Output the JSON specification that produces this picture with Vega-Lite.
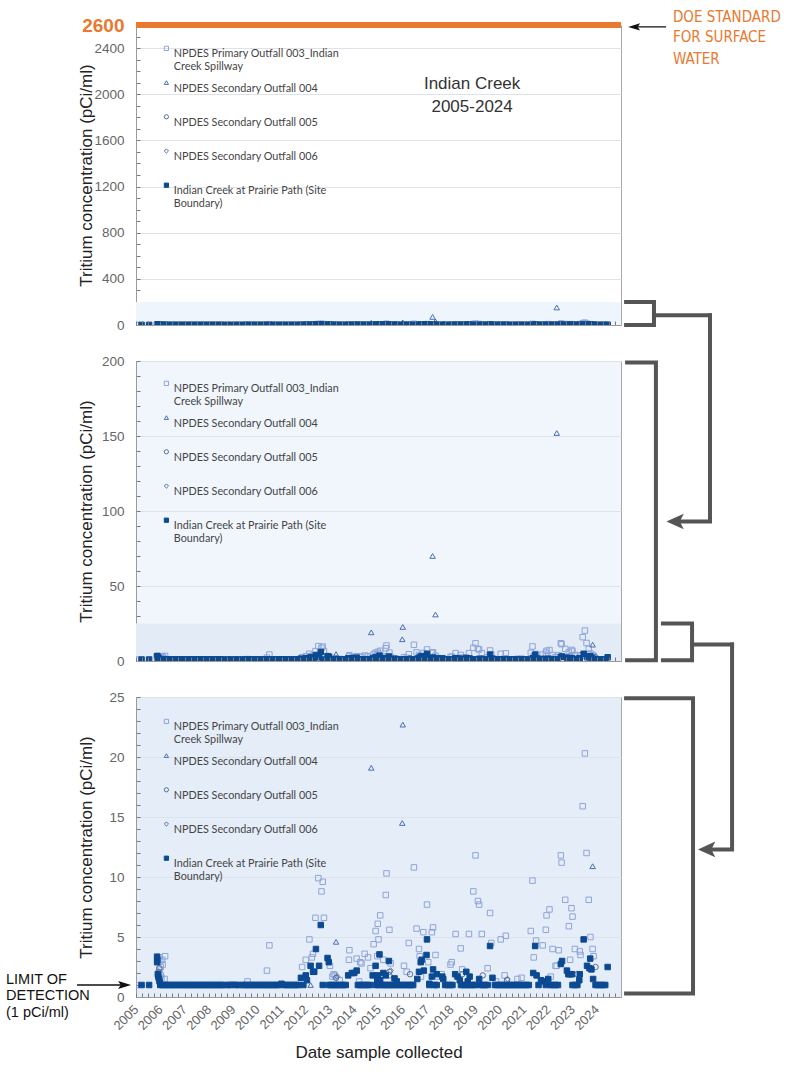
{
"$schema": "https://vega.github.io/schema/vega-lite/v6.json",
"padding": {"left": 5, "top": 9, "right": 5, "bottom": 5},
"background": "white",
"config": {
  "font": "Liberation Sans",
  "view": {"stroke": "#a8a8a8", "strokeWidth": 1},
  "axis": {"domainColor": "#9a9a9a", "tickColor": "#7a7a7a", "tickSize": -4, "tickCount": 200, "labelOverlap": false, "labelFont": "Liberation Sans", "labelColor": "#666", "labelFontSize": 13.5, "titleFont": "Liberation Sans", "titleFontWeight": "normal", "titleColor": "#222", "titleFontSize": 17, "gridColor": "#dde3eb"}
},
"datasets": {
  "sites": [
    {"s": "003", "site": "NPDES Primary Outfall 003_Indian Creek Spillway"},
    {"s": "004", "site": "NPDES Secondary Outfall 004"},
    {"s": "005", "site": "NPDES Secondary Outfall 005"},
    {"s": "006", "site": "NPDES Secondary Outfall 006"},
    {"s": "IC", "site": "Indian Creek at Prairie Path (Site Boundary)"}
  ],
  "samples": [
{"t":2005.0,"v":1.0,"s":"003"},{"t":2005.95,"v":3.3,"s":"003"},{"t":2006.0,"v":3.0,"s":"003"},{"t":2006.02,"v":2.5,"s":"003"},{"t":2005.97,"v":2.3,"s":"003"},{"t":2005.95,"v":2.0,"s":"003"},{"t":2006.02,"v":1.8,"s":"003"},{"t":2006.05,"v":1.6,"s":"003"},{"t":2006.2,"v":3.4,"s":"003"},{"t":2006.18,"v":1.5,"s":"003"},{"t":2006.1,"v":2.7,"s":"003"},{"t":2006.08,"v":3.1,"s":"003"},
{"t":2008.7,"v":1.0,"s":"003"},{"t":2009.0,"v":1.05,"s":"003"},{"t":2009.3,"v":1.0,"s":"003"},{"t":2009.6,"v":1.3,"s":"003"},{"t":2010.4,"v":2.2,"s":"003"},{"t":2010.5,"v":4.3,"s":"003"},
{"t":2011.85,"v":2.5,"s":"003"},{"t":2012.0,"v":3.1,"s":"003"},{"t":2012.15,"v":4.8,"s":"003"},{"t":2012.25,"v":3.3,"s":"003"},{"t":2012.3,"v":3.6,"s":"003"},{"t":2012.4,"v":6.6,"s":"003"},{"t":2012.52,"v":9.9,"s":"003"},{"t":2012.65,"v":8.8,"s":"003"},{"t":2012.7,"v":9.6,"s":"003"},{"t":2012.75,"v":6.6,"s":"003"},{"t":2013.0,"v":2.6,"s":"003"},{"t":2013.1,"v":1.7,"s":"003"},{"t":2013.15,"v":1.9,"s":"003"},{"t":2013.2,"v":1.8,"s":"003"},{"t":2013.4,"v":1.4,"s":"003"},{"t":2013.78,"v":3.1,"s":"003"},{"t":2013.8,"v":3.9,"s":"003"},
{"t":2014.1,"v":3.2,"s":"003"},{"t":2014.2,"v":1.3,"s":"003"},{"t":2014.25,"v":2.9,"s":"003"},{"t":2014.3,"v":2.8,"s":"003"},{"t":2014.43,"v":3.6,"s":"003"},{"t":2014.57,"v":3.3,"s":"003"},{"t":2014.67,"v":2.4,"s":"003"},{"t":2014.8,"v":4.4,"s":"003"},{"t":2014.88,"v":5.5,"s":"003"},{"t":2014.95,"v":3.4,"s":"003"},{"t":2014.97,"v":6.1,"s":"003"},{"t":2015.0,"v":4.8,"s":"003"},{"t":2015.07,"v":6.8,"s":"003"},{"t":2015.2,"v":3.1,"s":"003"},{"t":2015.3,"v":8.5,"s":"003"},{"t":2015.33,"v":10.3,"s":"003"},{"t":2015.45,"v":5.6,"s":"003"},{"t":2015.5,"v":2.8,"s":"003"},
{"t":2016.05,"v":2.6,"s":"003"},{"t":2016.16,"v":2.1,"s":"003"},{"t":2016.25,"v":4.5,"s":"003"},{"t":2016.46,"v":10.8,"s":"003"},{"t":2016.57,"v":5.7,"s":"003"},{"t":2016.67,"v":4.0,"s":"003"},{"t":2016.7,"v":3.4,"s":"003"},{"t":2016.75,"v":1.7,"s":"003"},{"t":2016.85,"v":5.4,"s":"003"},{"t":2017.0,"v":7.7,"s":"003"},{"t":2017.05,"v":2.9,"s":"003"},{"t":2017.2,"v":5.4,"s":"003"},{"t":2017.25,"v":5.8,"s":"003"},{"t":2017.35,"v":3.5,"s":"003"},{"t":2017.45,"v":1.7,"s":"003"},{"t":2017.6,"v":1.9,"s":"003"},{"t":2017.97,"v":2.7,"s":"003"},
{"t":2018.02,"v":2.9,"s":"003"},{"t":2018.18,"v":5.25,"s":"003"},{"t":2018.39,"v":4.05,"s":"003"},{"t":2018.45,"v":2.3,"s":"003"},{"t":2018.73,"v":5.25,"s":"003"},{"t":2018.91,"v":8.8,"s":"003"},{"t":2019.0,"v":11.8,"s":"003"},{"t":2019.1,"v":8.0,"s":"003"},{"t":2019.15,"v":7.7,"s":"003"},{"t":2019.26,"v":5.25,"s":"003"},{"t":2019.5,"v":2.4,"s":"003"},{"t":2019.6,"v":7.0,"s":"003"},{"t":2019.65,"v":4.5,"s":"003"},{"t":2019.85,"v":1.3,"s":"003"},
{"t":2020.04,"v":4.8,"s":"003"},{"t":2020.2,"v":1.8,"s":"003"},{"t":2020.25,"v":5.1,"s":"003"},{"t":2020.73,"v":1.5,"s":"003"},{"t":2020.9,"v":1.6,"s":"003"},{"t":2021.28,"v":5.5,"s":"003"},{"t":2021.35,"v":9.7,"s":"003"},{"t":2021.4,"v":3.3,"s":"003"},{"t":2021.5,"v":4.7,"s":"003"},{"t":2021.77,"v":4.3,"s":"003"},{"t":2021.9,"v":5.6,"s":"003"},{"t":2021.93,"v":6.8,"s":"003"},
{"t":2022.05,"v":7.3,"s":"003"},{"t":2022.1,"v":1.7,"s":"003"},{"t":2022.18,"v":4.0,"s":"003"},{"t":2022.3,"v":2.6,"s":"003"},{"t":2022.35,"v":2.6,"s":"003"},{"t":2022.43,"v":3.9,"s":"003"},{"t":2022.52,"v":11.8,"s":"003"},{"t":2022.55,"v":11.2,"s":"003"},{"t":2022.7,"v":8.1,"s":"003"},{"t":2022.85,"v":5.9,"s":"003"},{"t":2022.9,"v":3.1,"s":"003"},{"t":2022.96,"v":7.4,"s":"003"},
{"t":2023.0,"v":6.7,"s":"003"},{"t":2023.1,"v":4.0,"s":"003"},{"t":2023.3,"v":3.8,"s":"003"},{"t":2023.33,"v":3.5,"s":"003"},{"t":2023.42,"v":15.9,"s":"003"},{"t":2023.51,"v":20.3,"s":"003"},{"t":2023.58,"v":12.0,"s":"003"},{"t":2023.67,"v":8.1,"s":"003"},{"t":2023.74,"v":5.0,"s":"003"},{"t":2023.83,"v":4.0,"s":"003"},{"t":2023.87,"v":3.4,"s":"003"},
{"t":2012.2,"v":1.0,"s":"004"},{"t":2013.25,"v":4.6,"s":"004"},{"t":2014.7,"v":19.1,"s":"004"},{"t":2016.0,"v":22.7,"s":"004"},{"t":2015.98,"v":14.5,"s":"004"},{"t":2017.23,"v":70,"s":"004"},{"t":2017.35,"v":31,"s":"004"},{"t":2022.35,"v":152,"s":"004"},{"t":2023.83,"v":10.9,"s":"004"},
{"t":2005.93,"v":2.1,"s":"005"},{"t":2005.96,"v":2.4,"s":"005"},{"t":2013.25,"v":1.6,"s":"005"},{"t":2015.45,"v":2.1,"s":"005"},{"t":2015.45,"v":1.8,"s":"005"},{"t":2016.3,"v":1.9,"s":"005"},{"t":2018.45,"v":1.9,"s":"005"},{"t":2019.3,"v":1.8,"s":"005"},{"t":2020.3,"v":1.4,"s":"005"},{"t":2023.2,"v":1.9,"s":"005"},{"t":2023.95,"v":2.5,"s":"005"},
{"t":2013.3,"v":1.7,"s":"006"},{"t":2015.5,"v":2.2,"s":"006"},{"t":2020.32,"v":1.5,"s":"006"},
{"t":2005.87,"v":3.36,"s":"IC"},{"t":2005.88,"v":3.1,"s":"IC"},{"t":2005.87,"v":2.9,"s":"IC"},{"t":2005.9,"v":1.9,"s":"IC"},{"t":2005.92,"v":1.7,"s":"IC"},{"t":2005.95,"v":1.5,"s":"IC"},{"t":2005.97,"v":1.3,"s":"IC"},
{"t":2011.8,"v":1.6,"s":"IC"},{"t":2012.0,"v":1.8,"s":"IC"},{"t":2012.05,"v":1.4,"s":"IC"},{"t":2012.2,"v":2.6,"s":"IC"},{"t":2012.3,"v":2.1,"s":"IC"},{"t":2012.35,"v":2.1,"s":"IC"},{"t":2012.42,"v":4.0,"s":"IC"},{"t":2012.55,"v":2.6,"s":"IC"},{"t":2012.62,"v":6.0,"s":"IC"},{"t":2012.9,"v":3.25,"s":"IC"},{"t":2012.95,"v":2.9,"s":"IC"},{"t":2013.75,"v":1.8,"s":"IC"},{"t":2013.9,"v":2.0,"s":"IC"},{"t":2014.0,"v":2.0,"s":"IC"},{"t":2014.1,"v":2.2,"s":"IC"},{"t":2014.76,"v":1.8,"s":"IC"},{"t":2014.88,"v":2.6,"s":"IC"},{"t":2014.95,"v":1.4,"s":"IC"},{"t":2014.97,"v":1.8,"s":"IC"},
{"t":2015.04,"v":3.55,"s":"IC"},{"t":2015.07,"v":1.4,"s":"IC"},{"t":2015.2,"v":2.0,"s":"IC"},{"t":2015.3,"v":1.8,"s":"IC"},{"t":2015.43,"v":3.0,"s":"IC"},{"t":2015.66,"v":1.55,"s":"IC"},{"t":2015.75,"v":1.3,"s":"IC"},{"t":2016.6,"v":1.5,"s":"IC"},{"t":2016.67,"v":2.1,"s":"IC"},{"t":2016.74,"v":2.9,"s":"IC"},{"t":2016.78,"v":3.1,"s":"IC"},{"t":2016.87,"v":2.2,"s":"IC"},{"t":2016.98,"v":3.5,"s":"IC"},{"t":2017.0,"v":4.8,"s":"IC"},{"t":2017.1,"v":1.1,"s":"IC"},{"t":2017.2,"v":1.7,"s":"IC"},{"t":2017.25,"v":2.3,"s":"IC"},{"t":2017.4,"v":1.9,"s":"IC"},{"t":2017.63,"v":1.7,"s":"IC"},{"t":2017.67,"v":1.5,"s":"IC"},
{"t":2018.16,"v":1.9,"s":"IC"},{"t":2018.26,"v":1.7,"s":"IC"},{"t":2018.35,"v":1.4,"s":"IC"},{"t":2018.62,"v":2.1,"s":"IC"},{"t":2018.68,"v":1.3,"s":"IC"},{"t":2018.76,"v":1.7,"s":"IC"},{"t":2019.15,"v":1.5,"s":"IC"},{"t":2019.6,"v":4.25,"s":"IC"},{"t":2019.7,"v":1.6,"s":"IC"},{"t":2021.38,"v":2.0,"s":"IC"},{"t":2021.46,"v":4.25,"s":"IC"},{"t":2021.52,"v":1.8,"s":"IC"},{"t":2021.7,"v":1.4,"s":"IC"},{"t":2021.83,"v":1.3,"s":"IC"},{"t":2022.0,"v":1.5,"s":"IC"},
{"t":2022.52,"v":2.75,"s":"IC"},{"t":2022.57,"v":3.0,"s":"IC"},{"t":2022.77,"v":2.2,"s":"IC"},{"t":2022.83,"v":1.9,"s":"IC"},{"t":2022.9,"v":1.9,"s":"IC"},{"t":2022.98,"v":1.9,"s":"IC"},{"t":2023.28,"v":1.4,"s":"IC"},{"t":2023.3,"v":1.9,"s":"IC"},{"t":2023.46,"v":4.8,"s":"IC"},{"t":2023.6,"v":2.6,"s":"IC"},{"t":2023.7,"v":2.4,"s":"IC"},{"t":2023.73,"v":3.2,"s":"IC"},{"t":2023.78,"v":2.3,"s":"IC"},{"t":2023.85,"v":1.5,"s":"IC"},{"t":2024.45,"v":2.5,"s":"IC"},
{"t":2005.23,"v":1,"s":"IC"},{"t":2005.54,"v":1,"s":"IC"},
{"t":2006.0,"v":1,"s":"IC"},{"t":2006.1,"v":1,"s":"IC"},{"t":2006.2,"v":1,"s":"IC"},{"t":2006.3,"v":1,"s":"IC"},{"t":2006.4,"v":1,"s":"IC"},{"t":2006.5,"v":1,"s":"IC"},{"t":2006.6,"v":1,"s":"IC"},{"t":2006.7,"v":1,"s":"IC"},{"t":2006.8,"v":1,"s":"IC"},{"t":2006.9,"v":1,"s":"IC"},
{"t":2007.0,"v":1,"s":"IC"},{"t":2007.1,"v":1,"s":"IC"},{"t":2007.2,"v":1,"s":"IC"},{"t":2007.3,"v":1,"s":"IC"},{"t":2007.4,"v":1,"s":"IC"},{"t":2007.5,"v":1,"s":"IC"},{"t":2007.6,"v":1,"s":"IC"},{"t":2007.7,"v":1,"s":"IC"},{"t":2007.8,"v":1,"s":"IC"},{"t":2007.9,"v":1,"s":"IC"},
{"t":2008.0,"v":1,"s":"IC"},{"t":2008.1,"v":1,"s":"IC"},{"t":2008.2,"v":1,"s":"IC"},{"t":2008.3,"v":1,"s":"IC"},{"t":2008.4,"v":1,"s":"IC"},{"t":2008.5,"v":1,"s":"IC"},{"t":2008.6,"v":1,"s":"IC"},{"t":2008.8,"v":1,"s":"IC"},{"t":2008.9,"v":1,"s":"IC"},
{"t":2009.1,"v":1,"s":"IC"},{"t":2009.2,"v":1,"s":"IC"},{"t":2009.4,"v":1,"s":"IC"},{"t":2009.5,"v":1,"s":"IC"},{"t":2009.6,"v":1,"s":"IC"},{"t":2009.7,"v":1,"s":"IC"},{"t":2009.8,"v":1,"s":"IC"},{"t":2009.9,"v":1,"s":"IC"},
{"t":2010.0,"v":1,"s":"IC"},{"t":2010.1,"v":1,"s":"IC"},{"t":2010.2,"v":1,"s":"IC"},{"t":2010.3,"v":1,"s":"IC"},{"t":2010.4,"v":1,"s":"IC"},{"t":2010.5,"v":1,"s":"IC"},{"t":2010.6,"v":1,"s":"IC"},{"t":2010.7,"v":1,"s":"IC"},{"t":2010.8,"v":1,"s":"IC"},{"t":2010.9,"v":1,"s":"IC"},
{"t":2011.0,"v":1.1,"s":"IC"},{"t":2011.1,"v":1,"s":"IC"},{"t":2011.2,"v":1,"s":"IC"},{"t":2011.3,"v":1,"s":"IC"},{"t":2011.4,"v":1,"s":"IC"},{"t":2011.5,"v":1,"s":"IC"},{"t":2011.6,"v":1,"s":"IC"},{"t":2011.7,"v":1,"s":"IC"},{"t":2011.9,"v":1,"s":"IC"},
{"t":2012.7,"v":1,"s":"IC"},{"t":2012.96,"v":1,"s":"IC"},{"t":2013.05,"v":1,"s":"IC"},{"t":2013.15,"v":1,"s":"IC"},{"t":2013.25,"v":1,"s":"IC"},{"t":2013.35,"v":1,"s":"IC"},{"t":2013.45,"v":1,"s":"IC"},{"t":2013.55,"v":1,"s":"IC"},{"t":2013.65,"v":1,"s":"IC"},
{"t":2014.15,"v":1,"s":"IC"},{"t":2014.25,"v":1,"s":"IC"},{"t":2014.35,"v":1,"s":"IC"},{"t":2014.45,"v":1,"s":"IC"},{"t":2014.55,"v":1,"s":"IC"},{"t":2014.65,"v":1,"s":"IC"},{"t":2014.9,"v":1,"s":"IC"},{"t":2015.0,"v":1,"s":"IC"},
{"t":2015.15,"v":1,"s":"IC"},{"t":2015.25,"v":1,"s":"IC"},{"t":2015.35,"v":1,"s":"IC"},{"t":2015.45,"v":1,"s":"IC"},{"t":2015.55,"v":1,"s":"IC"},{"t":2015.65,"v":1,"s":"IC"},{"t":2015.75,"v":1,"s":"IC"},{"t":2015.85,"v":1,"s":"IC"},{"t":2015.95,"v":1,"s":"IC"},{"t":2016.05,"v":1,"s":"IC"},{"t":2016.15,"v":1,"s":"IC"},{"t":2016.25,"v":1,"s":"IC"},{"t":2016.35,"v":1,"s":"IC"},{"t":2016.43,"v":1,"s":"IC"},
{"t":2017.1,"v":1,"s":"IC"},{"t":2017.3,"v":1,"s":"IC"},{"t":2017.4,"v":1,"s":"IC"},{"t":2017.75,"v":1,"s":"IC"},{"t":2017.85,"v":1,"s":"IC"},{"t":2017.95,"v":1,"s":"IC"},{"t":2018.05,"v":1,"s":"IC"},
{"t":2018.4,"v":1,"s":"IC"},{"t":2018.5,"v":1,"s":"IC"},{"t":2018.6,"v":1,"s":"IC"},{"t":2018.7,"v":1,"s":"IC"},{"t":2018.8,"v":1,"s":"IC"},{"t":2018.9,"v":1,"s":"IC"},{"t":2019.0,"v":1,"s":"IC"},
{"t":2019.2,"v":1,"s":"IC"},{"t":2019.3,"v":1,"s":"IC"},{"t":2019.4,"v":1,"s":"IC"},{"t":2019.5,"v":1,"s":"IC"},
{"t":2019.8,"v":1,"s":"IC"},{"t":2019.9,"v":1,"s":"IC"},{"t":2020.0,"v":1,"s":"IC"},{"t":2020.1,"v":1,"s":"IC"},{"t":2020.2,"v":1,"s":"IC"},{"t":2020.3,"v":1,"s":"IC"},{"t":2020.4,"v":1,"s":"IC"},{"t":2020.5,"v":1,"s":"IC"},{"t":2020.6,"v":1,"s":"IC"},{"t":2020.7,"v":1,"s":"IC"},{"t":2020.8,"v":1,"s":"IC"},{"t":2020.9,"v":1,"s":"IC"},{"t":2021.0,"v":1,"s":"IC"},{"t":2021.1,"v":1,"s":"IC"},{"t":2021.2,"v":1,"s":"IC"},
{"t":2021.6,"v":1,"s":"IC"},{"t":2021.9,"v":1,"s":"IC"},{"t":2022.1,"v":1,"s":"IC"},{"t":2022.2,"v":1,"s":"IC"},{"t":2022.3,"v":1,"s":"IC"},{"t":2022.4,"v":1,"s":"IC"},
{"t":2023.0,"v":1,"s":"IC"},{"t":2023.1,"v":1,"s":"IC"},{"t":2023.2,"v":1,"s":"IC"},{"t":2023.95,"v":1,"s":"IC"},{"t":2024.05,"v":1,"s":"IC"},{"t":2024.15,"v":1,"s":"IC"},{"t":2024.25,"v":1,"s":"IC"},{"t":2024.35,"v":1,"s":"IC"}
  ]
},
"bounds": "flush",
"spacing": 36,
"resolve": {
  "scale": {"shape": "independent", "stroke": "independent", "fill": "independent"},
  "legend": {"shape": "independent", "stroke": "independent", "fill": "independent"}
},
"vconcat": [
{
  "width": 485, "height": 300,
  "layer": [
    {"data": {"values": [{"v": 0, "v2": 200}]}, "mark": {"type": "rect", "color": "#eef5fc", "clip": true}, "encoding": {"y": {"field": "v", "type": "quantitative"}, "y2": {"field": "v2"}}},
    {
      "data": {"name": "samples"},
      "transform": [{"lookup": "s", "from": {"data": {"name": "sites"}, "key": "s", "fields": ["site"]}}],
      "mark": {"type": "point", "clip": true, "opacity": 1, "strokeWidth": 1, "size": 30},
      "encoding": {
        "x": {"field": "t", "type": "quantitative", "scale": {"domain": [2005, 2025], "nice": false, "zero": false},
              "axis": {"title": null, "labels": false, "grid": false, "zindex": 1, "tickCount": 200, "values": [2005,2005.25,2005.5,2005.75,2006,2006.25,2006.5,2006.75,2007,2007.25,2007.5,2007.75,2008,2008.25,2008.5,2008.75,2009,2009.25,2009.5,2009.75,2010,2010.25,2010.5,2010.75,2011,2011.25,2011.5,2011.75,2012,2012.25,2012.5,2012.75,2013,2013.25,2013.5,2013.75,2014,2014.25,2014.5,2014.75,2015,2015.25,2015.5,2015.75,2016,2016.25,2016.5,2016.75,2017,2017.25,2017.5,2017.75,2018,2018.25,2018.5,2018.75,2019,2019.25,2019.5,2019.75,2020,2020.25,2020.5,2020.75,2021,2021.25,2021.5,2021.75,2022,2022.25,2022.5,2022.75,2023,2023.25,2023.5,2023.75,2024,2024.25,2024.5,2024.75]}},
        "y": {"field": "v", "type": "quantitative", "scale": {"domain": [0, 2600], "nice": false},
              "axis": {"title": "Tritium concentration (pCi/ml)", "titleX": -50, "titleY": 150, "titleAngle": -90, "titleBaseline": "middle", "titleAlign": "center", "labelPadding": 16, "labelOverlap": false, "tickCount": 200,
                       "values": [0,100,200,300,400,500,600,700,800,900,1000,1100,1200,1300,1400,1500,1600,1700,1800,1900,2000,2100,2200,2300,2400,2500,2600],
                       "labelExpr": "datum.value % 400 === 0 || datum.value === 2600 ? format(datum.value, 'd') : ''",
                       "labelColor": {"condition": {"test": "datum.value === 2600", "value": "#e8792f"}, "value": "#666"},
                       "labelFontSize": {"condition": {"test": "datum.value === 2600", "value": 19}, "value": 13.5},
                       "labelFontWeight": {"condition": {"test": "datum.value === 2600", "value": "bold"}, "value": "normal"},
                       "gridOpacity": {"condition": {"test": "datum.value % 400 === 0 && datum.value > 0", "value": 1}, "value": 0}}},
        "shape": {"field": "site", "type": "nominal", "scale": {"domain": ["NPDES Primary Outfall 003_Indian Creek Spillway", "NPDES Secondary Outfall 004", "NPDES Secondary Outfall 005", "NPDES Secondary Outfall 006", "Indian Creek at Prairie Path (Site Boundary)"], "range": ["square", "triangle-up", "circle", "diamond", "square"]}},
        "stroke": {"field": "site", "type": "nominal", "scale": {"domain": ["NPDES Primary Outfall 003_Indian Creek Spillway", "NPDES Secondary Outfall 004", "NPDES Secondary Outfall 005", "NPDES Secondary Outfall 006", "Indian Creek at Prairie Path (Site Boundary)"], "range": ["#8fa4d8", "#4a6fb5", "#56709f", "#56709f", "#0b4a92"]},
                   "legend": {"title": null, "orient": "none", "legendX": 25, "legendY": 18, "padding": 0, "labelFont": "Lato", "labelFontSize": 10.8, "labelColor": "#444", "labelLimit": 400, "symbolSize": 18, "symbolStrokeWidth": 1, "rowPadding": 5.2, "gridAlign": "all", "labelOffset": 2, "labelBaseline": "top",
                              "labelExpr": "datum.label === 'NPDES Primary Outfall 003_Indian Creek Spillway' ? ['NPDES Primary Outfall 003_Indian', 'Creek Spillway'] : datum.label === 'Indian Creek at Prairie Path (Site Boundary)' ? ['Indian Creek at Prairie Path (Site', 'Boundary)'] : datum.label",
                              "encode": {"labels": {"dy": {"value": -7}, "lineHeight": {"value": 14}}}}},
        "fill": {"field": "site", "type": "nominal", "scale": {"domain": ["NPDES Primary Outfall 003_Indian Creek Spillway", "NPDES Secondary Outfall 004", "NPDES Secondary Outfall 005", "NPDES Secondary Outfall 006", "Indian Creek at Prairie Path (Site Boundary)"], "range": ["transparent", "transparent", "transparent", "transparent", "#0b4a92"]}}
      }
    },
    {"data": {"values": [{"v": 2600}]}, "mark": {"type": "rule", "color": "#e8792f", "strokeWidth": 6}, "encoding": {"y": {"field": "v", "type": "quantitative"}}},
    {"data": {"values": [{"t": 2018.86, "v": 2089, "label": "Indian Creek"}, {"t": 2018.86, "v": 1889, "label": "2005-2024"}]},
     "mark": {"type": "text", "fontSize": 17, "color": "#333", "font": "Liberation Sans", "align": "center", "baseline": "middle"},
     "encoding": {"x": {"field": "t", "type": "quantitative"}, "y": {"field": "v", "type": "quantitative"}, "text": {"field": "label"}}},
    {"data": {"values": [{"t": 2027.14, "v": 2667, "label": "DOE STANDARD"}, {"t": 2027.14, "v": 2494, "label": "FOR SURFACE"}, {"t": 2027.14, "v": 2306, "label": "WATER"}]},
     "mark": {"type": "text", "fontSize": 15, "color": "#e8792f", "font": "DejaVu Sans Condensed, Liberation Sans", "align": "left", "baseline": "middle"},
     "encoding": {"x": {"field": "t", "type": "quantitative"}, "y": {"field": "v", "type": "quantitative"}, "text": {"field": "label"}}},
    {"data": {"values": [{"t": 2025.54, "t2": 2026.86, "v": 2583}]}, "mark": {"type": "rule", "color": "#111", "strokeWidth": 1.3},
     "encoding": {"x": {"field": "t", "type": "quantitative"}, "x2": {"field": "t2"}, "y": {"field": "v", "type": "quantitative"}}},
    {"data": {"values": [{"t": 2025.54, "v": 2583}]}, "mark": {"type": "point", "shape": "M1,-0.6L-1,0L1,0.6L0.6,0Z", "filled": true, "color": "#111", "opacity": 1, "size": 144},
     "encoding": {"x": {"field": "t", "type": "quantitative"}, "y": {"field": "v", "type": "quantitative"}}},
    {"data": {"values": [
       {"id": "a", "o": 1, "t": 2025.21, "v": 200}, {"id": "a", "o": 2, "t": 2026.36, "v": 200}, {"id": "a", "o": 3, "t": 2026.36, "v": 0}, {"id": "a", "o": 4, "t": 2025.21, "v": 0},
       {"id": "b", "o": 1, "t": 2026.36, "v": 85}, {"id": "b", "o": 2, "t": 2028.67, "v": 85}]},
     "mark": {"type": "line", "color": "#555", "strokeWidth": 4, "strokeJoin": "miter", "strokeCap": "square"},
     "encoding": {"x": {"field": "t", "type": "quantitative"}, "y": {"field": "v", "type": "quantitative"}, "detail": {"field": "id"}, "order": {"field": "o"}}}
  ]
},
{
  "width": 485, "height": 300,
  "view": {"fill": "#f0f6fc", "stroke": "#a8a8a8"},
  "layer": [
    {"data": {"values": [{"v": 0, "v2": 25}]}, "mark": {"type": "rect", "color": "#e2ebf6", "clip": true}, "encoding": {"y": {"field": "v", "type": "quantitative"}, "y2": {"field": "v2"}}},
    {
      "data": {"name": "samples"},
      "transform": [{"lookup": "s", "from": {"data": {"name": "sites"}, "key": "s", "fields": ["site"]}}],
      "mark": {"type": "point", "clip": true, "opacity": 1, "strokeWidth": 1, "size": 30},
      "encoding": {
        "x": {"field": "t", "type": "quantitative", "scale": {"domain": [2005, 2025], "nice": false, "zero": false},
              "axis": {"title": null, "labels": false, "grid": false, "zindex": 1, "tickCount": 200, "values": [2005,2005.25,2005.5,2005.75,2006,2006.25,2006.5,2006.75,2007,2007.25,2007.5,2007.75,2008,2008.25,2008.5,2008.75,2009,2009.25,2009.5,2009.75,2010,2010.25,2010.5,2010.75,2011,2011.25,2011.5,2011.75,2012,2012.25,2012.5,2012.75,2013,2013.25,2013.5,2013.75,2014,2014.25,2014.5,2014.75,2015,2015.25,2015.5,2015.75,2016,2016.25,2016.5,2016.75,2017,2017.25,2017.5,2017.75,2018,2018.25,2018.5,2018.75,2019,2019.25,2019.5,2019.75,2020,2020.25,2020.5,2020.75,2021,2021.25,2021.5,2021.75,2022,2022.25,2022.5,2022.75,2023,2023.25,2023.5,2023.75,2024,2024.25,2024.5,2024.75]}},
        "y": {"field": "v", "type": "quantitative", "scale": {"domain": [0, 200], "nice": false},
              "axis": {"title": "Tritium concentration (pCi/ml)", "titleX": -50, "titleY": 150, "titleAngle": -90, "titleBaseline": "middle", "titleAlign": "center", "labelPadding": 16, "labelOverlap": false, "tickCount": 200,
                       "values": [0,10,20,30,40,50,60,70,80,90,100,110,120,130,140,150,160,170,180,190,200],
                       "labelExpr": "datum.value % 50 === 0 ? format(datum.value, 'd') : ''",
                       "gridOpacity": {"condition": {"test": "datum.value % 50 === 0 && datum.value > 0", "value": 1}, "value": 0}}},
        "shape": {"field": "site", "type": "nominal", "scale": {"domain": ["NPDES Primary Outfall 003_Indian Creek Spillway", "NPDES Secondary Outfall 004", "NPDES Secondary Outfall 005", "NPDES Secondary Outfall 006", "Indian Creek at Prairie Path (Site Boundary)"], "range": ["square", "triangle-up", "circle", "diamond", "square"]}},
        "stroke": {"field": "site", "type": "nominal", "scale": {"domain": ["NPDES Primary Outfall 003_Indian Creek Spillway", "NPDES Secondary Outfall 004", "NPDES Secondary Outfall 005", "NPDES Secondary Outfall 006", "Indian Creek at Prairie Path (Site Boundary)"], "range": ["#8fa4d8", "#4a6fb5", "#56709f", "#56709f", "#0b4a92"]},
                   "legend": {"title": null, "orient": "none", "legendX": 25, "legendY": 17, "padding": 0, "labelFont": "Lato", "labelFontSize": 10.8, "labelColor": "#444", "labelLimit": 400, "symbolSize": 18, "symbolStrokeWidth": 1, "rowPadding": 5.2, "gridAlign": "all", "labelOffset": 2, "labelBaseline": "top",
                              "labelExpr": "datum.label === 'NPDES Primary Outfall 003_Indian Creek Spillway' ? ['NPDES Primary Outfall 003_Indian', 'Creek Spillway'] : datum.label === 'Indian Creek at Prairie Path (Site Boundary)' ? ['Indian Creek at Prairie Path (Site', 'Boundary)'] : datum.label",
                              "encode": {"labels": {"dy": {"value": -7}, "lineHeight": {"value": 14}}}}},
        "fill": {"field": "site", "type": "nominal", "scale": {"domain": ["NPDES Primary Outfall 003_Indian Creek Spillway", "NPDES Secondary Outfall 004", "NPDES Secondary Outfall 005", "NPDES Secondary Outfall 006", "Indian Creek at Prairie Path (Site Boundary)"], "range": ["transparent", "transparent", "transparent", "transparent", "#0b4a92"]}}
      }
    },
    {"data": {"values": [
       {"id": "a", "o": 1, "t": 2025.25, "v": 199}, {"id": "a", "o": 2, "t": 2026.44, "v": 199}, {"id": "a", "o": 3, "t": 2026.44, "v": 0.5}, {"id": "a", "o": 4, "t": 2025.25, "v": 0.5},
       {"id": "b", "o": 1, "t": 2026.73, "v": 25}, {"id": "b", "o": 2, "t": 2027.93, "v": 25}, {"id": "b", "o": 3, "t": 2027.93, "v": 0.5}, {"id": "b", "o": 4, "t": 2026.73, "v": 0.5},
       {"id": "c", "o": 1, "t": 2028.67, "v": 230.5}, {"id": "c", "o": 2, "t": 2028.67, "v": 93}, {"id": "c", "o": 3, "t": 2027.23, "v": 93},
       {"id": "d", "o": 1, "t": 2027.93, "v": 11}, {"id": "d", "o": 2, "t": 2029.58, "v": 11}]},
     "mark": {"type": "line", "color": "#555", "strokeWidth": 4, "strokeJoin": "miter", "strokeCap": "square"},
     "encoding": {"x": {"field": "t", "type": "quantitative"}, "y": {"field": "v", "type": "quantitative"}, "detail": {"field": "id"}, "order": {"field": "o"}}},
    {"data": {"values": [{"t": 2027.23, "v": 93}]}, "mark": {"type": "point", "shape": "M1,-0.9L-1,0L1,0.9L0.55,0Z", "filled": true, "color": "#555", "opacity": 1, "size": 300},
     "encoding": {"x": {"field": "t", "type": "quantitative"}, "y": {"field": "v", "type": "quantitative"}}}
  ]
},
{
  "width": 485, "height": 300,
  "view": {"fill": "#e5edf8", "stroke": "#a8a8a8"},
  "layer": [
    {
      "data": {"name": "samples"},
      "transform": [{"lookup": "s", "from": {"data": {"name": "sites"}, "key": "s", "fields": ["site"]}}],
      "mark": {"type": "point", "clip": true, "opacity": 1, "strokeWidth": 1, "size": 30},
      "encoding": {
        "x": {"field": "t", "type": "quantitative", "scale": {"domain": [2005, 2025], "nice": false, "zero": false},
              "axis": {"title": "Date sample collected", "titlePadding": 12, "grid": false, "zindex": 1, "tickCount": 200, "labelAngle": -45, "labelAlign": "right", "labelBaseline": "middle", "labelPadding": 14, "labelOverlap": false, "labelFlush": false, "labelFontSize": 13,
                       "labelExpr": "datum.value % 1 === 0 ? format(datum.value, 'd') : ''",
                       "values": [2005,2005.25,2005.5,2005.75,2006,2006.25,2006.5,2006.75,2007,2007.25,2007.5,2007.75,2008,2008.25,2008.5,2008.75,2009,2009.25,2009.5,2009.75,2010,2010.25,2010.5,2010.75,2011,2011.25,2011.5,2011.75,2012,2012.25,2012.5,2012.75,2013,2013.25,2013.5,2013.75,2014,2014.25,2014.5,2014.75,2015,2015.25,2015.5,2015.75,2016,2016.25,2016.5,2016.75,2017,2017.25,2017.5,2017.75,2018,2018.25,2018.5,2018.75,2019,2019.25,2019.5,2019.75,2020,2020.25,2020.5,2020.75,2021,2021.25,2021.5,2021.75,2022,2022.25,2022.5,2022.75,2023,2023.25,2023.5,2023.75,2024,2024.25,2024.5,2024.75]}},
        "y": {"field": "v", "type": "quantitative", "scale": {"domain": [0, 25], "nice": false},
              "axis": {"title": "Tritium concentration (pCi/ml)", "titleX": -50, "titleY": 150, "titleAngle": -90, "titleBaseline": "middle", "titleAlign": "center", "labelPadding": 16, "labelOverlap": false, "tickCount": 200,
                       "values": [0,1,2,3,4,5,6,7,8,9,10,11,12,13,14,15,16,17,18,19,20,21,22,23,24,25],
                       "labelExpr": "datum.value % 5 === 0 ? format(datum.value, 'd') : ''",
                       "gridOpacity": {"condition": {"test": "datum.value % 5 === 0 && datum.value > 0", "value": 1}, "value": 0}}},
        "shape": {"field": "site", "type": "nominal", "scale": {"domain": ["NPDES Primary Outfall 003_Indian Creek Spillway", "NPDES Secondary Outfall 004", "NPDES Secondary Outfall 005", "NPDES Secondary Outfall 006", "Indian Creek at Prairie Path (Site Boundary)"], "range": ["square", "triangle-up", "circle", "diamond", "square"]}},
        "stroke": {"field": "site", "type": "nominal", "scale": {"domain": ["NPDES Primary Outfall 003_Indian Creek Spillway", "NPDES Secondary Outfall 004", "NPDES Secondary Outfall 005", "NPDES Secondary Outfall 006", "Indian Creek at Prairie Path (Site Boundary)"], "range": ["#8fa4d8", "#4a6fb5", "#56709f", "#56709f", "#0b4a92"]},
                   "legend": {"title": null, "orient": "none", "legendX": 25, "legendY": 19, "padding": 0, "labelFont": "Lato", "labelFontSize": 10.8, "labelColor": "#444", "labelLimit": 400, "symbolSize": 18, "symbolStrokeWidth": 1, "rowPadding": 5.2, "gridAlign": "all", "labelOffset": 2, "labelBaseline": "top",
                              "labelExpr": "datum.label === 'NPDES Primary Outfall 003_Indian Creek Spillway' ? ['NPDES Primary Outfall 003_Indian', 'Creek Spillway'] : datum.label === 'Indian Creek at Prairie Path (Site Boundary)' ? ['Indian Creek at Prairie Path (Site', 'Boundary)'] : datum.label",
                              "encode": {"labels": {"dy": {"value": -7}, "lineHeight": {"value": 14}}}}},
        "fill": {"field": "site", "type": "nominal", "scale": {"domain": ["NPDES Primary Outfall 003_Indian Creek Spillway", "NPDES Secondary Outfall 004", "NPDES Secondary Outfall 005", "NPDES Secondary Outfall 006", "Indian Creek at Prairie Path (Site Boundary)"], "range": ["transparent", "transparent", "transparent", "transparent", "#0b4a92"]}}
      }
    },
    {"data": {"values": [
       {"id": "a", "o": 1, "t": 2025.21, "v": 24.9}, {"id": "a", "o": 2, "t": 2027.97, "v": 24.9}, {"id": "a", "o": 3, "t": 2027.97, "v": 0.3}, {"id": "a", "o": 4, "t": 2025.21, "v": 0.3},
       {"id": "b", "o": 1, "t": 2029.58, "v": 29.375}, {"id": "b", "o": 2, "t": 2029.58, "v": 12.3}, {"id": "b", "o": 3, "t": 2028.53, "v": 12.3}]},
     "mark": {"type": "line", "color": "#555", "strokeWidth": 4, "strokeJoin": "miter", "strokeCap": "square"},
     "encoding": {"x": {"field": "t", "type": "quantitative"}, "y": {"field": "v", "type": "quantitative"}, "detail": {"field": "id"}, "order": {"field": "o"}}},
    {"data": {"values": [{"t": 2028.53, "v": 12.3}]}, "mark": {"type": "point", "shape": "M1,-0.9L-1,0L1,0.9L0.55,0Z", "filled": true, "color": "#555", "opacity": 1, "size": 300},
     "encoding": {"x": {"field": "t", "type": "quantitative"}, "y": {"field": "v", "type": "quantitative"}}},
    {"data": {"values": [{"t": 1999.64, "v": 1.42, "label": "LIMIT OF"}, {"t": 1999.64, "v": 0.08, "label": "DETECTION"}, {"t": 1999.64, "v": -1.33, "label": "(1 pCi/ml)"}]},
     "mark": {"type": "text", "fontSize": 14.5, "color": "#111", "font": "Liberation Sans", "align": "left", "baseline": "middle"},
     "encoding": {"x": {"field": "t", "type": "quantitative"}, "y": {"field": "v", "type": "quantitative"}, "text": {"field": "label"}}},
    {"data": {"values": [{"t": 2002.57, "t2": 2004.53, "v": 1}]}, "mark": {"type": "rule", "color": "#111", "strokeWidth": 1.3},
     "encoding": {"x": {"field": "t", "type": "quantitative"}, "x2": {"field": "t2"}, "y": {"field": "v", "type": "quantitative"}}},
    {"data": {"values": [{"t": 2004.53, "v": 1}]}, "mark": {"type": "point", "shape": "M-1,-0.6L1,0L-1,0.6L-0.6,0Z", "filled": true, "color": "#111", "opacity": 1, "size": 169},
     "encoding": {"x": {"field": "t", "type": "quantitative"}, "y": {"field": "v", "type": "quantitative"}}}
  ]
}
]
}
